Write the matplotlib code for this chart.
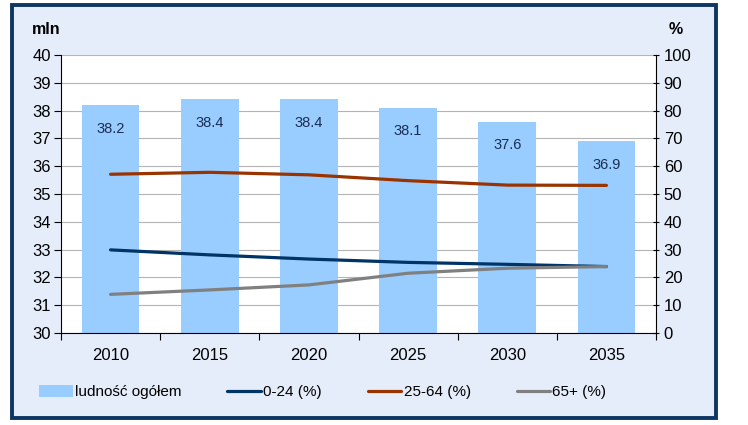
import matplotlib
matplotlib.use("Agg")
import matplotlib.pyplot as plt
from matplotlib.patches import Rectangle
import numpy as np

plt.rcParams['font.family'] = ['Liberation Sans', 'DejaVu Sans']

years = ['2010', '2015', '2020', '2025', '2030', '2035']
total_mln = [38.2, 38.4, 38.4, 38.1, 37.6, 36.9]
age_0_24 = [29.9, 28.1, 26.6, 25.4, 24.7, 23.9]
age_25_64 = [57.1, 57.8, 56.9, 54.8, 53.2, 53.1]
age_65 = [13.9, 15.5, 17.3, 21.5, 23.3, 23.9]
left_ticks = list(range(30, 41))
right_ticks = list(range(0, 101, 10))

W, H = 748, 425
fig = plt.figure(figsize=(W / 100, H / 100), dpi=100)
fig.patch.set_facecolor('white')

frame = Rectangle((12 / W, 1 - 418 / H), (716 - 12) / W, (418 - 5) / H,
                  transform=fig.transFigure, facecolor='#E6EDFA',
                  edgecolor='#0F3563', linewidth=2.8, zorder=-5)
fig.patches.append(frame)

ax = fig.add_axes([61 / W, 1 - 333 / H, (656 - 61) / W, (333 - 55) / H])
ax.set_facecolor('white')
x = np.arange(len(years))
bars = ax.bar(x, total_mln, width=0.58, color='#99CCFF', zorder=2)
ax.set_ylim(30, 40)
ax.set_xlim(-0.5, len(years) - 0.5)
ax.set_yticks(left_ticks)
ax.set_yticklabels([str(t) for t in left_ticks], fontsize=12)
ax.set_xticks(x)
ax.set_xticklabels(years, fontsize=12)
ax.set_xticks(np.arange(-0.5, len(years), 1.0), minor=True)
ax.tick_params(axis='x', which='major', length=0, pad=11)
ax.tick_params(axis='x', which='minor', length=5, direction='out', width=0.8)
ax.tick_params(axis='y', length=5, direction='out', width=0.8, pad=2)
ax.grid(axis='y', color='#B4B4B4', linewidth=0.8, zorder=1)
ax.set_axisbelow(True)
for s in ['top', 'right']:
    ax.spines[s].set_visible(False)
for s in ['left', 'bottom']:
    ax.spines[s].set_linewidth(0.8)

for xi, v in zip(x, total_mln):
    ax.text(xi, v - 0.85, f'{v:.1f}', ha='center', va='center',
            fontsize=10.5, color='#1A2E55', zorder=5)

ax2 = ax.twinx()
ax2.set_ylim(0, 100)
ax2.set_yticks(right_ticks)
ax2.set_yticklabels([str(t) for t in right_ticks], fontsize=12)
ax2.tick_params(axis='y', length=5, direction='inout', width=0.8, pad=3)
for s in ['top', 'left', 'bottom']:
    ax2.spines[s].set_visible(False)
ax2.spines['right'].set_linewidth(0.8)
ax2.patch.set_visible(False)

lw = 2.3
l1, = ax2.plot(x, age_0_24, color='#003366', lw=lw, solid_capstyle='round', solid_joinstyle='round')
l2, = ax2.plot(x, age_25_64, color='#993300', lw=lw, solid_capstyle='round', solid_joinstyle='round')
l3, = ax2.plot(x, age_65, color='#808080', lw=lw, solid_capstyle='round', solid_joinstyle='round')

fig.text(32 / W, 1 - 30 / H, 'mln', fontsize=11.5, fontweight='bold', va='center', ha='left')
fig.text(669 / W, 1 - 30 / H, '%', fontsize=11.5, fontweight='bold', va='center', ha='left')

leg = fig.legend([bars, l1, l2, l3],
                 ['ludność ogółem', '0-24 (%)', '25-64 (%)', '65+ (%)'],
                 loc='center left', bbox_to_anchor=(33 / W, 1 - 392 / H),
                 ncol=4, frameon=False, fontsize=11, handlelength=2.2,
                 handleheight=0.8, handletextpad=0.15, columnspacing=3.0,
                 borderaxespad=0)

fig.savefig('out.png', dpi=100)
